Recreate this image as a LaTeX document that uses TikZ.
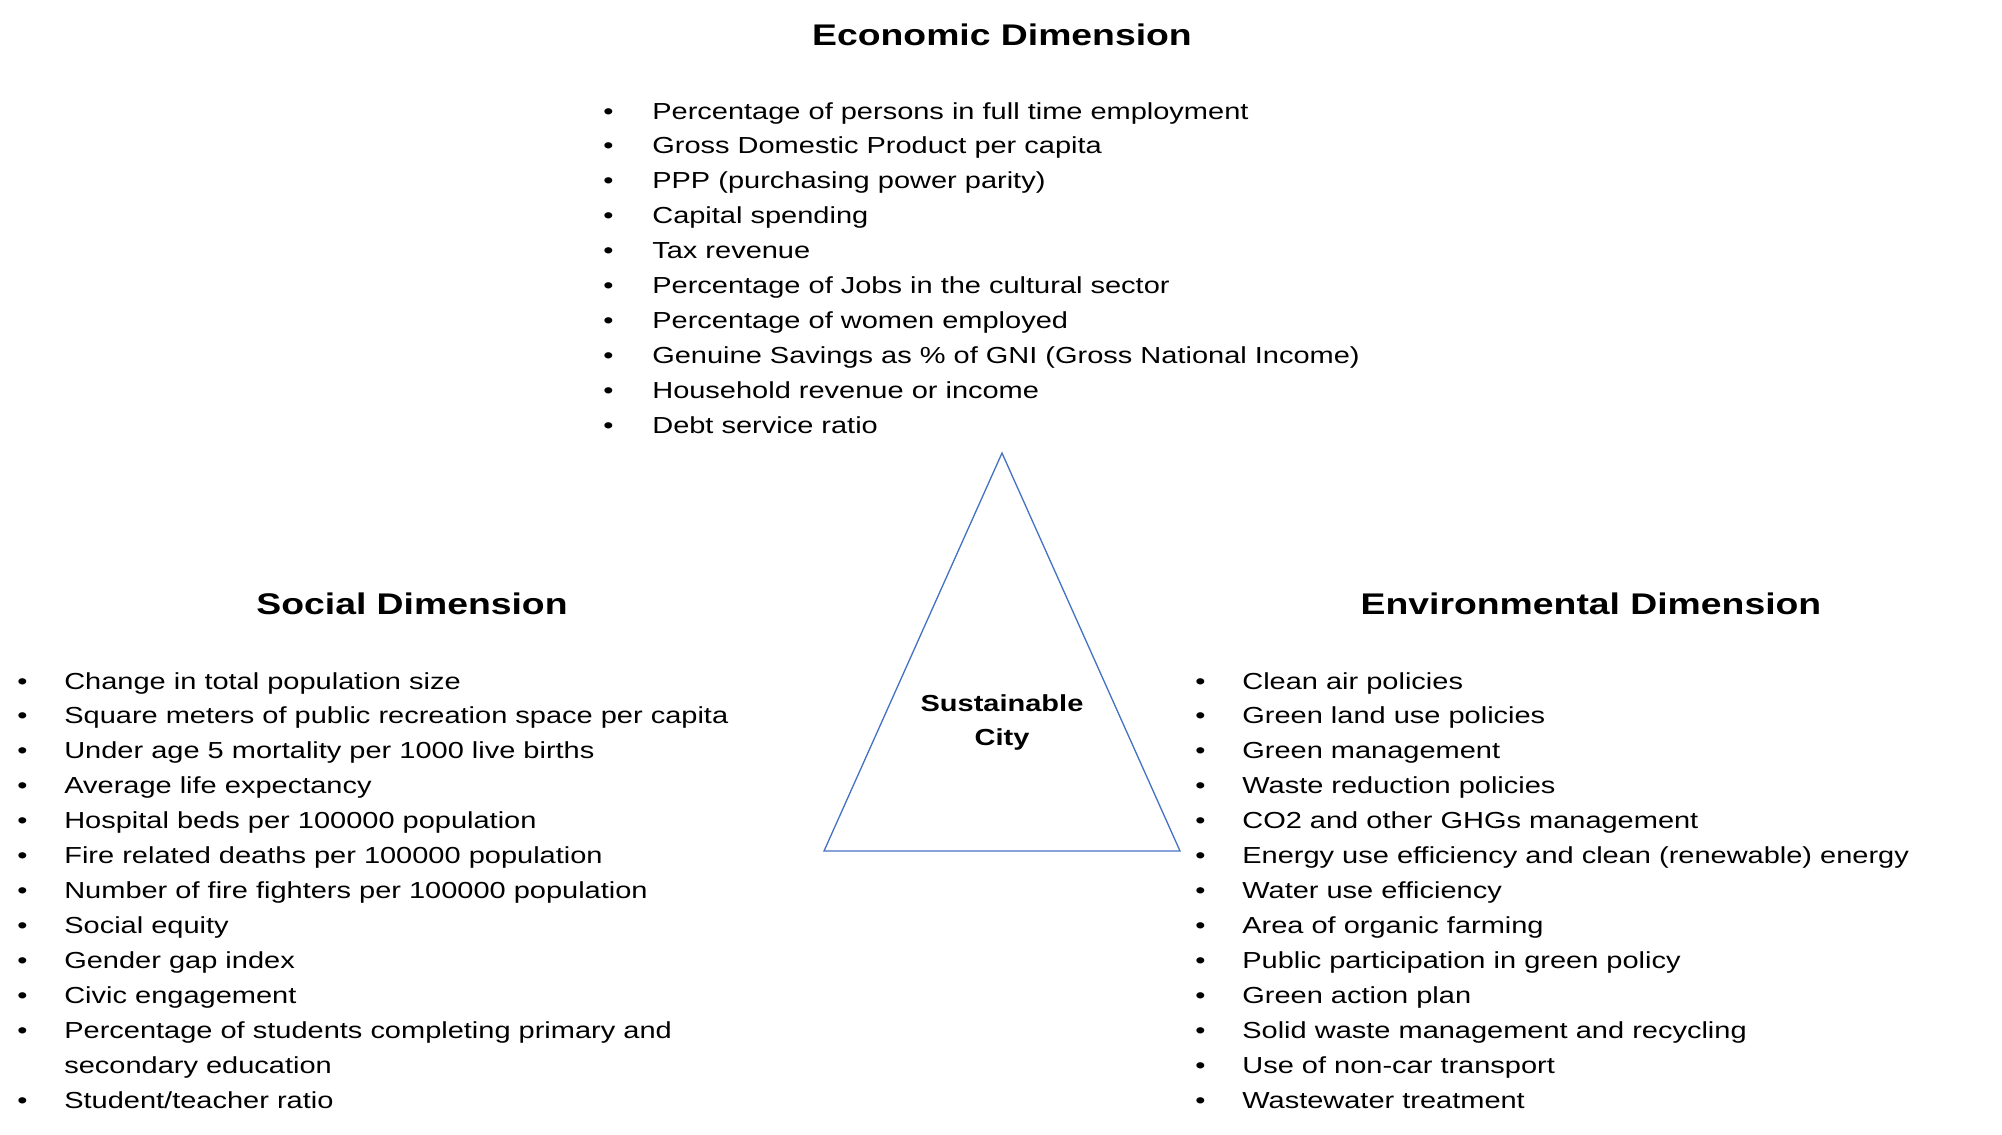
\documentclass[tikz,border=0pt]{standalone}
\usepackage{fontspec}
\setmainfont{Liberation Sans}[FakeStretch=1.25]
\usepackage{xcolor}
\usepackage{tikz}
\usetikzlibrary{positioning}
\definecolor{cityblue}{RGB}{68,114,196}

\begin{document}
\begin{tikzpicture}[
    x=0.02cm,y=-0.02cm,
    heading/.style={anchor=base,inner sep=0pt,font=\fontsize{17}{20}\selectfont\bfseries},
    itemlist/.style={anchor=base west,inner sep=0pt,font=\fontsize{13.2}{19.9}\selectfont},
    cityname/.style={anchor=base,inner sep=0pt,font=\fontsize{13.2}{19.9}\selectfont\bfseries},
    triangle/.style={draw=cityblue,line width=0.75pt}
  ]
    \useasboundingbox (0,0) rectangle (2002,1134);

    % the three dimensions
    \node[heading] (econtitle) at (1002,45) {Economic Dimension};
    \node[heading] (soctitle) at (412,614) {Social Dimension};
    \node[heading] (envtitle) at (1591,614) {Environmental Dimension};

    \node[itemlist] (econlist) at (603,119) {\begin{tabular}[t]{@{}p{0.98cm}@{}l@{}}
      \textbullet & Percentage of persons in full time employment\\
      \textbullet & Gross Domestic Product per capita\\
      \textbullet & PPP (purchasing power parity)\\
      \textbullet & Capital spending\\
      \textbullet & Tax revenue\\
      \textbullet & Percentage of Jobs in the cultural sector\\
      \textbullet & Percentage of women employed\\
      \textbullet & Genuine Savings as \% of GNI (Gross National Income)\\
      \textbullet & Household revenue or income\\
      \textbullet & Debt service ratio
    \end{tabular}};

    \node[itemlist] (soclist) at (17,689) {\begin{tabular}[t]{@{}p{0.94cm}@{}l@{}}
      \textbullet & Change in total population size\\
      \textbullet & Square meters of public recreation space per capita\\
      \textbullet & Under age 5 mortality per 1000 live births\\
      \textbullet & Average life expectancy\\
      \textbullet & Hospital beds per 100000 population\\
      \textbullet & Fire related deaths per 100000 population\\
      \textbullet & Number of fire fighters per 100000 population\\
      \textbullet & Social equity\\
      \textbullet & Gender gap index\\
      \textbullet & Civic engagement\\
      \textbullet & Percentage of students completing primary and\\
                  & secondary education\\
      \textbullet & Student/teacher ratio
    \end{tabular}};

    \node[itemlist] (envlist) at (1195,689) {\begin{tabular}[t]{@{}p{0.94cm}@{}l@{}}
      \textbullet & Clean air policies\\
      \textbullet & Green land use policies\\
      \textbullet & Green management\\
      \textbullet & Waste reduction policies\\
      \textbullet & CO2 and other GHGs management\\
      \textbullet & Energy use efficiency and clean (renewable) energy\\
      \textbullet & Water use efficiency\\
      \textbullet & Area of organic farming\\
      \textbullet & Public participation in green policy\\
      \textbullet & Green action plan\\
      \textbullet & Solid waste management and recycling\\
      \textbullet & Use of non-car transport\\
      \textbullet & Wastewater treatment
    \end{tabular}};

    % triangle in the middle
    \coordinate (apex) at (1002,453);
    \coordinate (baseleft) at (824,851);
    \coordinate (baseright) at (1180,851);
    \draw[triangle] (apex) -- (baseright) -- (baseleft) -- cycle;
    \node[cityname] (city) at (1002,711) {\begin{tabular}[t]{@{}c@{}}Sustainable\\City\end{tabular}};
  \end{tikzpicture}
\end{document}
